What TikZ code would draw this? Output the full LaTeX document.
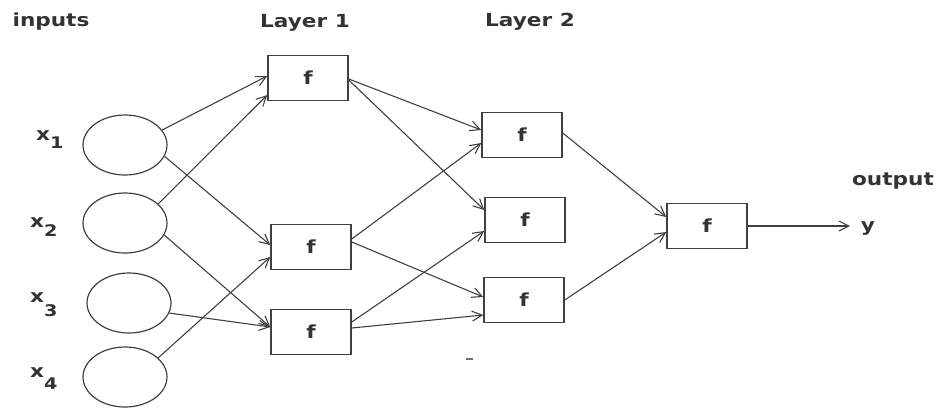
\documentclass[tikz,border=0pt]{standalone}
\usepackage{fontspec}
\newfontfamily\lbl{DejaVu Sans}[FakeStretch=1.2]
\usetikzlibrary{shapes.geometric,arrows.meta}
\begin{document}
\begin{tikzpicture}[x=1bp,y=-1bp,
 ln/.style={draw=black!75, line width=1.2bp},
 inp/.style={ellipse, ln, minimum width=84bp, minimum height=60bp, inner sep=0pt},
 fbox/.style={rectangle, ln, line width=1.5bp, minimum width=80bp, minimum height=45bp, inner sep=0pt, font=\lbl\bfseries\fontsize{18bp}{20bp}\selectfont, text=black!80},
 lab/.style={font=\lbl\bfseries\fontsize{18bp}{20bp}\selectfont, text=black!80, inner sep=0pt},
 con/.style={draw=black!75, line width=1.1bp, -{Straight Barb[length=10bp,width=10bp]}}
]
\useasboundingbox (0,0) rectangle (936,407);
% titles
\node[lab] (tin) at (51,22) {inputs};
\node[lab] (tl1) at (305,23) {Layer 1};
\node[lab] (tl2) at (530,22) {Layer 2};
\node[lab] (tout) at (893,181) {output};
% input labels
\node[lab, anchor=base west] (lx1) at (36,140) {x\raisebox{-8bp}{\fontsize{16bp}{16bp}\selectfont 1}};
\node[lab, anchor=base west] (lx2) at (30,227) {x\raisebox{-9bp}{\fontsize{16bp}{16bp}\selectfont 2}};
\node[lab, anchor=base west] (lx3) at (30,302) {x\raisebox{-14bp}{\fontsize{16bp}{16bp}\selectfont 3}};
\node[lab, anchor=base west] (lx4) at (30,377) {x\raisebox{-12bp}{\fontsize{16bp}{16bp}\selectfont 4}};
% input circles
\node[inp] (x1) at (125,145) {};
\node[inp] (x2) at (125,223) {};
\node[inp] (x3) at (129,303) {};
\node[inp] (x4) at (125,377) {};
% layer 1
\node[fbox] (a1) at (308,78) {f};
\node[fbox] (b1) at (311,247) {f};
\node[fbox] (c1) at (311,332) {f};
% layer 2
\node[fbox] (a2) at (522,135) {f};
\node[fbox] (b2) at (525,220) {f};
\node[fbox] (c2) at (524,300) {f};
% output
\node[fbox] (o) at (707,226) {f};
\node[lab] (y) at (868,229) {y};
\coordinate (yend) at (850,226);
% inputs -> layer 1
\draw[con] (x1.22) -- ([yshift=2bp]a1.west);
\draw[con] (x1.-16) -- ([yshift=2bp]b1.west);
\draw[con] (x2.30) -- ([yshift=-17bp]a1.west);
\draw[con] (x2.-17) -- ([yshift=5bp]c1.west);
\draw[con] (x3.-14) -- ([yshift=5bp]c1.west);
\draw[con] (x4.30) -- ([yshift=-10bp]b1.west);
% layer 1 -> layer 2
\draw[con] ([yshift=-1bp]a1.east) -- ([yshift=5bp]a2.west);
\draw[con] ([yshift=-2bp]a1.east) -- ([yshift=10bp]b2.west);
\draw[con] ([yshift=8bp]b1.east) -- ([yshift=-8bp]a2.west);
\draw[con] ([yshift=5bp]b1.east) -- ([yshift=3bp]c2.west);
\draw[con] ([yshift=10bp]c1.east) -- ([yshift=-11bp]b2.west);
\draw[con] ([yshift=4bp]c1.east) -- ([yshift=-15bp]c2.west);
% layer 2 -> output
\draw[con] ([yshift=2bp]a2.east) -- ([yshift=9bp]o.west);
\draw[con] (c2.east) -- ([yshift=-6bp]o.west);
\draw[con] (o.east) -- (yend);
% stray mark
\draw[black!55, line width=1.2bp] (466,359) -- (473,359);
\end{tikzpicture}
\end{document}
